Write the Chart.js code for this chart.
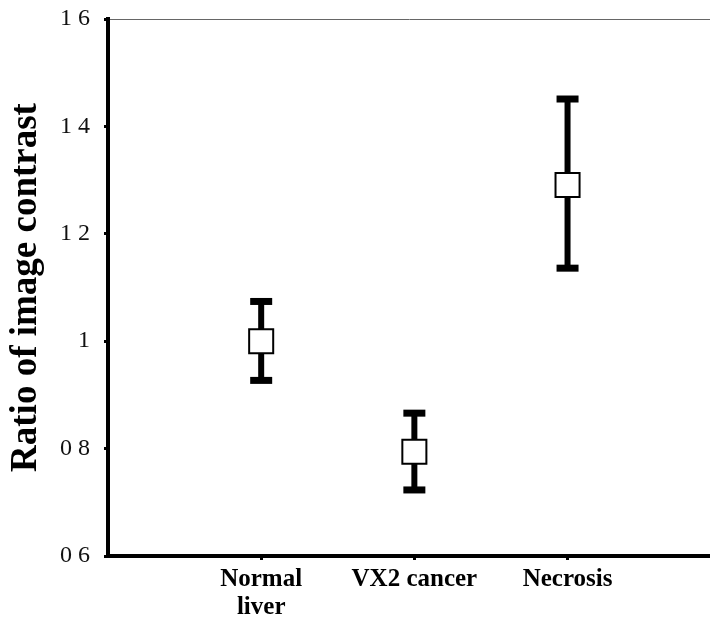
<!DOCTYPE html>
<html lang="en">
<head>
    <meta charset="UTF-8">
    <title>Ratio of image contrast</title>
    <script src="https://cdn.jsdelivr.net/npm/chart.js"></script>
    <style>
        body {
            margin: 0;
            padding: 0;
            background: white;
        }
        #wrap {
            width: 710px;
            height: 620px;
        }
    </style>
</head>
<body>
    <div id="wrap"><canvas id="contrastChart"></canvas></div>

    <script>
        // values
        const categories = [['Normal', 'liver'], 'VX2 cancer', 'Necrosis'];
        const categoryPos = [1, 2, 3];
        const means = [1.0, 0.794, 1.291];
        const lower = [0.927, 0.723, 1.136];
        const upper = [1.074, 0.866, 1.451];
        const yTickLabels = { 6: '0 6', 8: '0 8', 10: '1', 12: '1 2', 14: '1 4', 16: '1 6' };

        const serif = "'Liberation Serif', 'Times New Roman', serif";

        // one vertical stem per category
        const stems = categoryPos.map((x, i) => ({
            type: 'line',
            data: [{ x: x, y: lower[i] }, { x: x, y: upper[i] }],
            borderColor: '#000',
            borderWidth: 6,
            pointRadius: 0,
            showLine: true,
            order: 3
        }));

        const caps = {
            data: categoryPos.flatMap((x, i) => [{ x: x, y: lower[i] }, { x: x, y: upper[i] }]),
            pointStyle: 'line',
            pointRadius: 11,
            borderColor: '#000',
            borderWidth: 7,
            order: 2
        };

        const meanPoints = {
            data: categoryPos.map((x, i) => ({ x: x, y: means[i] })),
            pointStyle: 'rect',
            pointRadius: 17,
            backgroundColor: '#fff',
            borderColor: '#000',
            borderWidth: 2,
            order: 1
        };

        const noPad = (scale) => {
            scale.paddingLeft = 0;
            scale.paddingRight = 0;
            scale.paddingTop = 0;
            scale.paddingBottom = 0;
        };

        const ctx = document.getElementById('contrastChart').getContext('2d');
        new Chart(ctx, {
            type: 'scatter',
            data: { datasets: [meanPoints, caps, ...stems] },
            options: {
                responsive: true,
                maintainAspectRatio: false,
                animation: false,
                layout: { autoPadding: false, padding: { top: 19, right: 0, left: 0, bottom: 0 } },
                plugins: {
                    legend: { display: false },
                    tooltip: { enabled: false }
                },
                scales: {
                    x: {
                        type: 'linear',
                        min: 0,
                        max: 3.93,
                        afterBuildTicks: (scale) => {
                            scale.ticks = categoryPos.map(v => ({ value: v }));
                        },
                        afterFit: (scale) => { scale.height = 64; noPad(scale); },
                        border: { display: true, color: '#000', width: 4 },
                        grid: { drawOnChartArea: false, drawTicks: true, tickLength: 4, tickWidth: 3, color: '#000' },
                        ticks: {
                            padding: 6,
                            color: '#000',
                            font: { family: serif, size: 25, weight: 'bold', lineHeight: 1.1 },
                            callback: (v) => {
                                const i = categoryPos.indexOf(v);
                                return i >= 0 ? categories[i] : '';
                            }
                        }
                    },
                    xTop: {
                        type: 'linear',
                        position: 'top',
                        min: 0,
                        max: 3.93,
                        border: { display: true, color: '#666', width: 1 },
                        grid: { display: false },
                        ticks: { display: false },
                        afterFit: (scale) => { scale.height = 0; noPad(scale); }
                    },
                    y: {
                        min: 0.6,
                        max: 1.6,
                        afterFit: (scale) => { scale.width = 108; noPad(scale); },
                        border: { display: true, color: '#000', width: 4 },
                        grid: { drawOnChartArea: false, drawTicks: true, tickLength: 4, tickWidth: 3, color: '#000' },
                        ticks: {
                            stepSize: 0.2,
                            padding: 14,
                            color: '#111',
                            font: { family: serif, size: 24 },
                            callback: (v) => yTickLabels[Math.round(v * 10)] || ''
                        },
                        title: {
                            display: true,
                            text: 'Ratio of image contrast',
                            color: '#000',
                            padding: { top: 4, bottom: 0 },
                            font: { family: serif, size: 37, weight: 'bold' }
                        }
                    }
                }
            }
        });
    </script>
</body>
</html>
